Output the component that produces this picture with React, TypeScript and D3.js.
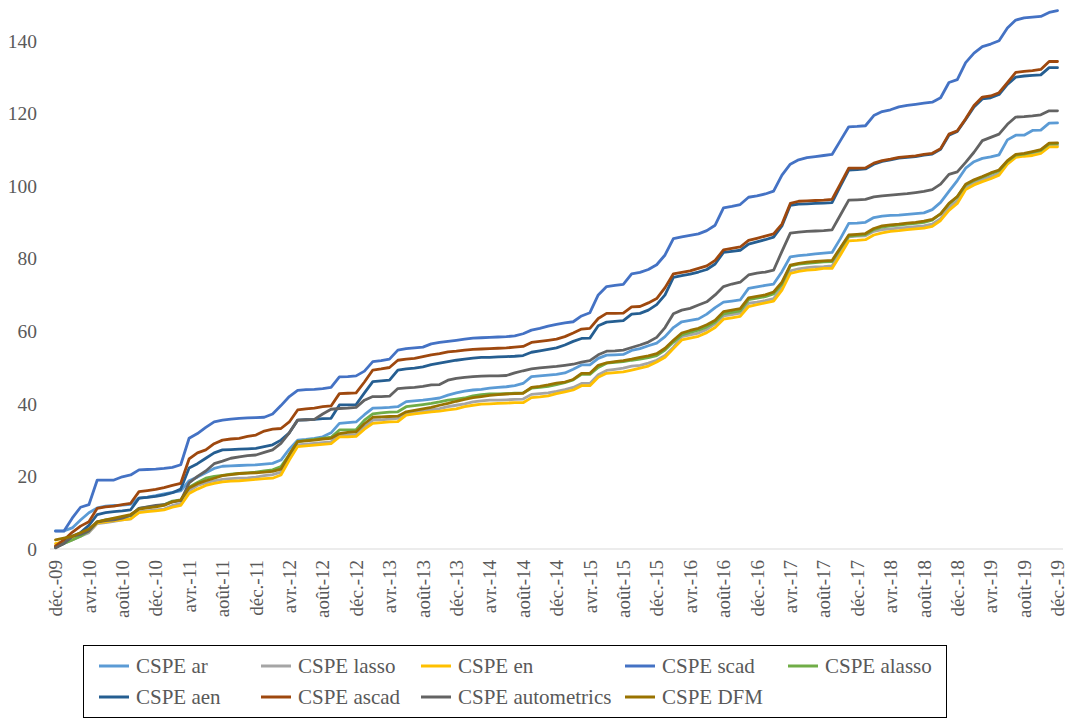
import React from "react";
import * as d3 from "d3";

// Monthly observations: déc. 2009 .. déc. 2019 (121 months)
const months: Date[] = d3.timeMonth.range(new Date(2009, 11, 1), new Date(2020, 0, 1));

const xTickLabels = [
  "déc.-09", "avr.-10", "août-10", "déc.-10", "avr.-11", "août-11", "déc.-11",
  "avr.-12", "août-12", "déc.-12", "avr.-13", "août-13", "déc.-13", "avr.-14",
  "août-14", "déc.-14", "avr.-15", "août-15", "déc.-15", "avr.-16", "août-16",
  "déc.-16", "avr.-17", "août-17", "déc.-17", "avr.-18", "août-18", "déc.-18",
  "avr.-19", "août-19", "déc.-19",
];
const yTickValues = [0, 20, 40, 60, 80, 100, 120, 140];

const cspeAr = [
  5.0, 5.0, 5.8, 8.0, 10.0, 11.3, 11.8, 12.0, 12.1, 12.3, 14.0, 14.3, 14.7, 15.2, 15.6, 16.0, 18.8, 19.8,
  21.0, 22.2, 22.8, 22.9, 23.0, 23.1, 23.2, 23.4, 23.6, 24.5, 27.5, 30.0, 30.2, 30.5, 30.9, 32.0, 34.6, 34.8, 35.0, 37.0, 38.8,
  38.9, 39.0, 39.2, 40.6, 40.8, 41.0, 41.3, 41.6, 42.4, 43.0, 43.5, 43.8, 44.0, 44.3, 44.5, 44.7, 45.0, 45.6,
  47.5, 47.7, 47.9, 48.1, 48.5, 49.5, 50.7, 50.7, 52.5, 53.4, 53.5, 53.6, 54.7, 55.2, 56.0, 56.7, 58.5, 61.0,
  62.6, 63.0, 63.4, 64.7, 66.5, 68.0, 68.3, 68.6, 71.8, 72.2, 72.6, 73.0, 76.4, 80.5, 80.8, 81.0, 81.3, 81.5,
  81.7, 85.5, 89.7, 89.8, 90.0, 91.3, 91.7, 91.9, 92.0, 92.2, 92.4, 92.6, 93.5, 95.5, 98.5, 101.5, 104.9, 106.7,
  107.6, 108.0, 108.6, 112.7, 114.0, 114.0, 115.3, 115.4, 117.3, 117.4,
];
const cspeLasso = [
  1.0, 1.5, 2.5, 3.5, 4.5, 7.0, 7.3, 7.6, 8.0, 8.3, 10.2, 10.5, 10.8, 11.0, 12.0, 12.5, 16.0, 17.5,
  18.2, 18.8, 19.2, 19.4, 19.5, 19.6, 19.8, 20.2, 20.5, 21.2, 25.0, 28.7, 28.9, 29.1, 29.3, 29.5, 31.4, 31.4, 31.5, 33.5, 35.5,
  35.6, 35.8, 36.0, 37.4, 37.7, 38.0, 38.3, 38.7, 39.2, 39.6, 40.0, 40.5, 40.8, 41.0, 41.0, 41.1, 41.2, 41.3,
  42.6, 42.8, 43.0, 43.4, 43.9, 44.5, 45.6, 45.6, 48.0, 49.2, 49.5, 49.8, 50.4, 50.6, 51.2, 52.0, 53.3, 55.6,
  58.5, 59.0, 59.5, 60.5, 62.0, 64.2, 64.6, 65.0, 67.7, 68.0, 68.4, 69.0, 72.0, 76.6, 77.2, 77.5, 77.7, 77.8,
  78.0, 82.0, 86.0, 86.2, 86.3, 87.5, 88.0, 88.2, 88.4, 88.6, 88.8, 89.0, 89.5, 91.0, 94.0, 96.0, 99.5, 101.0,
  101.8, 102.6, 103.5, 106.5, 108.2, 108.5, 108.8, 109.4, 111.2, 111.3,
];
const cspeEn = [
  1.5, 2.0, 3.0, 4.0, 5.0, 7.2, 7.5, 7.8, 8.0, 8.3, 10.0, 10.3, 10.5, 10.8, 11.5, 12.0, 15.3, 16.5,
  17.5, 18.1, 18.5, 18.7, 18.8, 19.0, 19.2, 19.4, 19.5, 20.4, 24.5, 28.2, 28.4, 28.6, 28.8, 29.0, 30.9, 30.9, 31.0, 33.0, 34.6,
  34.8, 35.0, 35.1, 36.9, 37.2, 37.5, 37.8, 38.0, 38.3, 38.6, 39.2, 39.6, 39.9, 40.0, 40.1, 40.2, 40.3, 40.3,
  41.7, 41.9, 42.2, 42.8, 43.3, 43.8, 45.0, 45.0, 47.3, 48.4, 48.6, 48.8, 49.3, 49.8, 50.4, 51.5, 52.8, 55.2,
  57.6, 58.1, 58.6, 59.6, 61.0, 63.3, 63.7, 64.1, 66.8, 67.3, 67.8, 68.3, 71.3, 75.9, 76.5, 76.8, 77.0, 77.3,
  77.3, 81.0, 84.9, 85.0, 85.2, 86.5, 87.1, 87.5, 87.7, 88.0, 88.2, 88.4, 88.9, 90.5, 93.3, 95.2, 99.0, 100.3,
  101.2, 102.0, 103.0, 106.0, 107.9, 108.2, 108.4, 109.0, 110.8, 110.8,
];
const cspeScad = [
  4.9, 4.9, 8.5, 11.5, 12.2, 19.0, 19.0, 19.0, 19.9, 20.4, 21.8, 21.9, 22.0, 22.2, 22.5, 23.2, 30.5, 31.8,
  33.5, 35.0, 35.5, 35.8, 36.0, 36.1, 36.2, 36.3, 37.2, 39.5, 42.0, 43.7, 43.9, 44.0, 44.2, 44.5, 47.4, 47.5, 47.7, 49.0, 51.6,
  51.9, 52.3, 54.8, 55.2, 55.4, 55.6, 56.5, 56.9, 57.2, 57.5, 57.8, 58.1, 58.2, 58.3, 58.4, 58.5, 58.7, 59.3,
  60.3, 60.8, 61.4, 61.9, 62.3, 62.6, 64.2, 65.1, 70.0, 72.3, 72.6, 72.9, 75.8, 76.2, 77.0, 78.3, 81.0, 85.5,
  86.0, 86.4, 86.8, 87.7, 89.2, 94.0, 94.4, 94.9, 96.9, 97.3, 97.8, 98.6, 103.0, 106.0, 107.2, 107.8, 108.1, 108.4,
  108.7, 112.5, 116.3, 116.4, 116.6, 119.4, 120.5, 121.0, 121.8, 122.2, 122.5, 122.8, 123.1, 124.3, 128.5, 129.3, 134.0, 136.6,
  138.4, 139.1, 140.0, 143.5, 145.7, 146.3, 146.5, 146.7, 147.8, 148.3,
];
const cspeAlasso = [
  0.5, 1.5, 2.5, 3.5, 5.0, 7.5, 8.0, 8.3, 8.8, 9.2, 11.2, 11.5, 11.8, 12.2, 13.2, 13.5, 17.0, 18.3,
  19.5, 20.0, 20.3, 20.6, 20.8, 21.0, 21.2, 21.5, 21.8, 22.7, 26.0, 29.6, 29.9, 30.2, 30.5, 30.8, 32.8, 32.8, 32.9, 35.5, 37.2,
  37.5, 37.7, 37.8, 39.2, 39.5, 39.8, 40.1, 40.5, 41.0, 41.3, 41.6, 42.2, 42.5, 42.7, 42.7, 42.8, 42.9, 43.0,
  44.3, 44.5, 44.8, 45.3, 45.8, 46.6, 48.1, 48.1, 50.0, 51.2, 51.4, 51.6, 52.0, 52.3, 52.7, 53.3, 54.8, 57.0,
  59.0, 59.7, 60.3, 61.2, 62.5, 64.8, 65.2, 65.6, 68.7, 69.1, 69.5, 70.3, 73.0, 78.0, 78.5, 78.7, 78.9, 79.1,
  79.2, 82.8, 86.2, 86.4, 86.6, 88.0, 88.7, 89.0, 89.2, 89.5, 89.7, 90.0, 90.6, 92.3, 95.0, 97.0, 100.3, 101.5,
  102.4, 103.4, 104.2, 106.8, 108.5, 108.8, 109.3, 109.8, 111.6, 111.7,
];
const cspeAen = [
  0.5, 1.5, 3.5, 4.5, 6.5, 9.5, 10.0, 10.3, 10.5, 10.8, 14.0, 14.2, 14.5, 14.9, 15.5, 16.5, 22.3, 23.5,
  25.0, 26.5, 27.3, 27.4, 27.5, 27.6, 27.7, 28.2, 28.7, 30.0, 32.0, 35.5, 35.6, 35.7, 35.9, 36.0, 39.7, 39.7, 39.8, 43.0, 46.1,
  46.3, 46.5, 49.3, 49.6, 49.8, 50.2, 50.8, 51.2, 51.6, 52.0, 52.3, 52.6, 52.8, 52.8, 52.9, 53.0, 53.1, 53.3,
  54.2, 54.6, 55.0, 55.4, 56.2, 57.2, 58.0, 58.1, 61.5, 62.5, 62.7, 62.9, 64.7, 64.9, 65.8, 67.3, 70.0, 74.8,
  75.3, 75.7, 76.3, 77.0, 78.5, 81.7, 82.0, 82.3, 84.0, 84.6, 85.2, 85.9, 89.0, 94.7, 95.0, 95.1, 95.2, 95.3,
  95.4, 100.0, 104.4, 104.5, 104.7, 106.0, 106.8, 107.2, 107.7, 107.9, 108.1, 108.5, 108.8, 110.1, 114.0, 115.0, 118.3, 121.8,
  124.0, 124.3, 125.2, 128.0, 130.0, 130.3, 130.5, 130.6, 132.6, 132.6,
];
const cspeAscad = [
  0.8, 2.5, 4.6, 6.3, 7.5, 11.2, 11.6, 11.8, 12.2, 12.6, 15.8, 16.1, 16.4, 16.9, 17.5, 18.1, 24.8, 26.5,
  27.3, 29.0, 30.0, 30.3, 30.5, 31.0, 31.4, 32.5, 33.0, 33.2, 35.0, 38.3, 38.6, 38.8, 39.2, 39.4, 42.8, 42.9, 43.0, 46.0, 49.3,
  49.6, 50.0, 52.0, 52.3, 52.5, 53.0, 53.5, 53.8, 54.3, 54.5, 54.8, 55.0, 55.1, 55.2, 55.3, 55.4, 55.6, 55.8,
  56.9, 57.2, 57.5, 57.8, 58.5, 59.5, 60.6, 60.8, 63.5, 64.9, 64.9, 65.0, 66.7, 66.8, 67.8, 69.0, 72.0, 75.8,
  76.2, 76.6, 77.3, 78.0, 79.5, 82.4, 82.8, 83.2, 85.0, 85.6, 86.2, 86.8, 89.5, 95.2, 95.8, 95.9, 96.0, 96.1,
  96.3, 100.6, 104.9, 104.9, 105.0, 106.3, 107.0, 107.4, 107.9, 108.1, 108.3, 108.7, 109.0, 110.3, 114.3, 115.2, 118.5, 122.2,
  124.5, 124.8, 125.7, 128.5, 131.3, 131.6, 131.8, 132.1, 134.3, 134.3,
];
const cspeAutometrics = [
  0.3, 1.5, 3.5, 4.0, 5.0, 7.5, 7.8, 8.0, 8.5, 9.3, 11.2, 11.6, 12.0, 12.2, 13.0, 13.3, 18.2, 20.0,
  21.5, 23.5, 24.2, 25.0, 25.4, 25.7, 25.9, 26.6, 27.3, 29.1, 32.0, 35.5, 35.6, 35.7, 37.2, 38.5, 38.7, 38.8, 39.0, 41.0, 42.0,
  42.0, 42.1, 44.2, 44.4, 44.5, 44.8, 45.2, 45.3, 46.5, 47.0, 47.3, 47.5, 47.6, 47.7, 47.7, 47.8, 48.5, 49.1,
  49.6, 49.9, 50.1, 50.3, 50.6, 50.9, 51.5, 51.9, 53.5, 54.5, 54.6, 54.8, 55.5, 56.2, 57.0, 58.3, 61.0, 64.8,
  65.8, 66.3, 67.2, 68.1, 70.0, 72.3, 73.0, 73.5, 75.5, 76.0, 76.3, 76.8, 82.0, 87.0, 87.3, 87.5, 87.6, 87.7,
  87.9, 92.0, 96.1, 96.2, 96.3, 97.0, 97.3, 97.5, 97.7, 97.9, 98.2, 98.5, 99.0, 100.5, 103.2, 103.9, 106.5, 109.3,
  112.5, 113.4, 114.3, 117.0, 119.0, 119.1, 119.3, 119.6, 120.7, 120.7,
];
const cspeDfm = [
  2.5, 3.0, 3.5, 4.5, 5.5, 7.5, 8.0, 8.5, 9.0, 9.5, 11.0, 11.3, 11.6, 12.0, 13.0, 13.5, 16.8, 18.0,
  18.8, 19.5, 20.2, 20.5, 20.8, 20.9, 21.0, 21.2, 21.4, 22.0, 26.0, 29.6, 29.8, 30.0, 30.3, 30.5, 31.8, 32.1, 32.3, 34.5, 36.3,
  36.4, 36.5, 36.6, 37.8, 38.2, 38.6, 39.0, 39.6, 40.1, 40.7, 41.2, 41.7, 42.0, 42.3, 42.5, 42.7, 42.8, 42.9,
  44.5, 44.8, 45.2, 45.7, 46.0, 46.7, 48.4, 48.4, 50.6, 51.3, 51.6, 51.9, 52.3, 52.8, 53.2, 53.8, 55.3, 57.5,
  59.5, 60.2, 60.8, 61.8, 63.0, 65.4, 65.8, 66.2, 69.2, 69.6, 70.0, 70.8, 73.5, 78.2, 78.7, 79.0, 79.2, 79.4,
  79.5, 83.0, 86.5, 86.7, 86.9, 88.3, 89.0, 89.3, 89.5, 89.8, 90.0, 90.3, 90.8, 92.3, 95.2, 97.1, 100.5, 101.7,
  102.6, 103.6, 104.4, 107.0, 108.7, 109.0, 109.5, 110.0, 111.8, 111.9,
];

const seriesNames = [
  "CSPE ar", "CSPE lasso", "CSPE en", "CSPE scad", "CSPE alasso",
  "CSPE aen", "CSPE ascad", "CSPE autometrics", "CSPE DFM",
];
const seriesValues = [
  cspeAr, cspeLasso, cspeEn, cspeScad, cspeAlasso,
  cspeAen, cspeAscad, cspeAutometrics, cspeDfm,
];
const seriesColors = [
  "#5B9BD5", "#A5A5A5", "#FFC000", "#4472C4", "#70AD47",
  "#255E91", "#9E480E", "#636363", "#997300",
];

const W = 1074;
const H = 720;
const FONT = "'Liberation Serif', 'Times New Roman', serif";
const TXT = "#595959";

export default function App() {
  const n = months.length;
  const x = d3.scaleLinear().domain([0, n - 1]).range([55.5, 1057.5]);
  const y = d3.scaleLinear().domain([0, 150]).range([549, 4.5]);
  const line = d3
    .line<number>()
    .x((_, i) => x(i))
    .y((d) => y(d));

  const legendCols = [99, 261, 421, 625, 788];
  const legendRows = [666, 697];

  return (
    <svg
      width={W}
      height={H}
      style={{ position: "absolute", left: 0, top: 0, background: "#fff" }}
      fontFamily={FONT}
    >
      <rect x={0} y={0} width={W} height={H} fill="#fff" />
      {/* y tick labels */}
      {yTickValues.map((v) => (
        <text key={v} x={37} y={y(v)} dy="0.35em" textAnchor="end" fontSize={19.5} fill={TXT}>
          {v}
        </text>
      ))}
      {/* x axis line */}
      <line x1={50} x2={1063} y1={y(0)} y2={y(0)} stroke="#D9D9D9" strokeWidth={1} />
      {/* x tick labels */}
      {xTickLabels.map((lab, k) => {
        const xi = x(k * 4);
        return (
          <text
            key={lab}
            transform={`translate(${xi},${560}) rotate(-90)`}
            dy="0.35em"
            textAnchor="end"
            fontSize={19}
            fill={TXT}
          >
            {lab}
          </text>
        );
      })}
      {/* series */}
      {seriesValues.map((vals, s) => (
        <path
          key={seriesNames[s]}
          d={line(vals) || ""}
          fill="none"
          stroke={seriesColors[s]}
          strokeWidth={2.8}
          strokeLinejoin="round"
          strokeLinecap="round"
        />
      ))}
      {/* legend */}
      <rect x={83.5} y={645.5} width={863} height={72} fill="#fff" stroke="#000" strokeWidth={1} />
      {seriesNames.map((name, s) => {
        const col = s % 5;
        const row = Math.floor(s / 5);
        const lx = legendCols[col];
        const ly = legendRows[row];
        return (
          <g key={name}>
            <line x1={lx} x2={lx + 30} y1={ly} y2={ly} stroke={seriesColors[s]} strokeWidth={3} />
            <text x={lx + 37} y={ly} dy="0.35em" fontSize={21} fill={TXT}>
              {name}
            </text>
          </g>
        );
      })}
    </svg>
  );
}
